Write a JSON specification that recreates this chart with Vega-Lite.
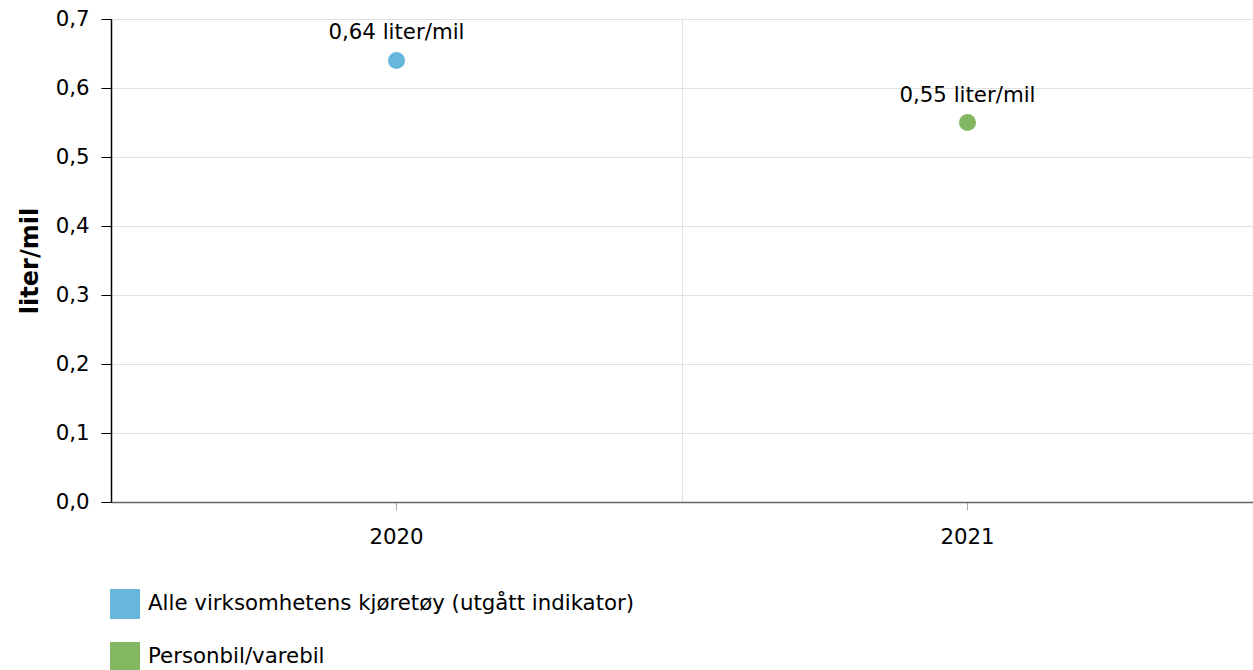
{
  "$schema": "https://vega.github.io/schema/vega-lite/v6.json",
  "autosize": {"type": "none"},
  "padding": {"left": 111, "top": 19, "right": 0, "bottom": 168},
  "width": 1142,
  "height": 483,
  "config": {
    "font": "DejaVu Sans",
    "view": {"stroke": null},
    "axis": {"labelFont": "DejaVu Sans", "titleFont": "DejaVu Sans", "labelColor": "#000", "titleColor": "#000"}
  },
  "data": {
    "values": [
      {"year": "2020", "value": 0.64, "series": "Alle virksomhetens kjøretøy (utgått indikator)", "label": "0,64 liter/mil"},
      {"year": "2021", "value": 0.55, "series": "Personbil/varebil", "label": "0,55 liter/mil"}
    ]
  },
  "resolve": {"axis": {"x": "independent"}},
  "layer": [
    {
      "mark": {"type": "point", "filled": true, "size": 290, "opacity": 1, "shape": "circle", "strokeWidth": 0},
      "encoding": {
        "x": {
          "field": "year", "type": "ordinal",
          "scale": {"type": "band", "paddingInner": 0, "paddingOuter": 0},
          "axis": {"orient": "bottom", "title": null, "grid": true, "tickBand": "extent", "gridColor": "#e0e0e0", "ticks": false, "labels": false, "domain": false}
        },
        "y": {
          "field": "value", "type": "quantitative",
          "scale": {"domain": [0, 0.7], "nice": false},
          "axis": {
            "title": "liter/mil", "titleFontSize": 24, "titleFontWeight": "bold",
            "titleX": -81, "titleY": 241.5, "titleAngle": -90, "titleAlign": "center", "titleBaseline": "middle",
            "values": [0, 0.1, 0.2, 0.3, 0.4, 0.5, 0.6, 0.7],
            "labelExpr": "replace(format(datum.value, '.1f'), '.', ',')",
            "labelFontSize": 21.3, "labelPadding": 12,
            "tickSize": 10, "tickColor": "#000", "domainColor": "#000", "domainWidth": 1.5,
            "grid": true, "gridColor": "#e0e0e0"
          }
        },
        "color": {
          "field": "series", "type": "nominal",
          "scale": {"domain": ["Alle virksomhetens kjøretøy (utgått indikator)", "Personbil/varebil"], "range": ["#67b7dc", "#84b761"]},
          "legend": {
            "title": null, "orient": "none", "legendX": -1, "legendY": 570, "direction": "vertical",
            "symbolType": "square", "symbolSize": 900, "symbolStrokeWidth": 0, "symbolOpacity": 1,
            "labelFontSize": 21.3, "labelColor": "#000", "labelOffset": 8, "rowPadding": 23, "labelLimit": 900, "padding": 0
          }
        }
      }
    },
    {
      "mark": {"type": "text", "dy": -21, "baseline": "alphabetic", "fontSize": 21.3, "color": "#000"},
      "encoding": {
        "x": {
          "field": "year", "type": "ordinal",
          "axis": {"orient": "bottom", "title": null, "grid": false, "labelAngle": 0, "labelFontSize": 21.3, "labelPadding": 16, "tickSize": 8, "tickColor": "#aaa", "domainColor": "#666", "domainWidth": 1.5}
        },
        "y": {"field": "value", "type": "quantitative"},
        "text": {"field": "label"}
      }
    }
  ]
}
